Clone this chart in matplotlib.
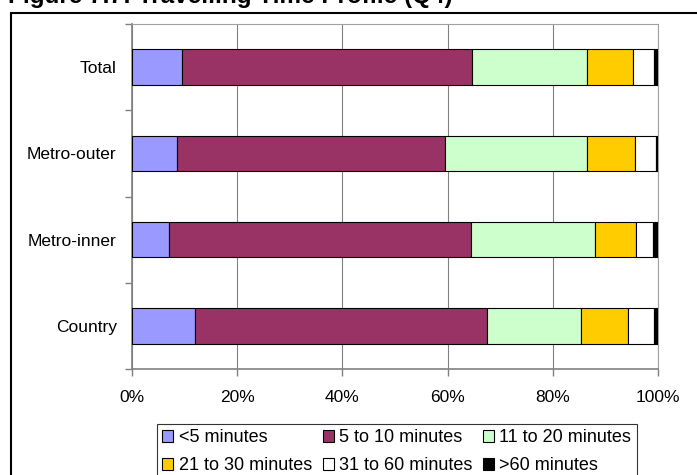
import numpy as np
import matplotlib
matplotlib.use("Agg")
import matplotlib.pyplot as plt
from matplotlib.patches import Rectangle

plt.rcParams['font.family'] = ['Liberation Sans', 'DejaVu Sans']

categories = ["Country", "Metro-inner", "Metro-outer", "Total"]
series_names = ["<5 minutes", "5 to 10 minutes", "11 to 20 minutes",
                "21 to 30 minutes", "31 to 60 minutes", ">60 minutes"]
under_5 = [11.9, 7.1, 8.6, 9.5]
m5_10 = [55.6, 57.3, 51.0, 55.1]
m11_20 = [17.9, 23.6, 26.9, 21.9]
m21_30 = [8.9, 7.8, 9.2, 8.7]
m31_60 = [5.0, 3.3, 3.9, 4.1]
over_60 = [0.7, 0.9, 0.4, 0.7]
x_ticks = [0, 20, 40, 60, 80, 100]
x_labels = ["0%", "20%", "40%", "60%", "80%", "100%"]
colors = ["#9999FF", "#993366", "#CCFFCC", "#FFCC00", "#FFFFFF", "#000000"]

series = [under_5, m5_10, m11_20, m21_30, m31_60, over_60]

fig = plt.figure(figsize=(6.97, 4.75), dpi=100)
ax = fig.add_axes([132 / 697, 1 - 369 / 475, (658 - 132) / 697, (369 - 24) / 475])

y = np.arange(len(categories))
left = np.zeros(len(categories))
handles = []
for vals, name, col in zip(series, series_names, colors):
    vals = np.array(vals)
    h = ax.barh(y, vals, left=left, height=0.41, color=col,
                edgecolor="black", linewidth=0.8, label=name, zorder=3)
    handles.append(h)
    left = left + vals

ax.set_xlim(0, 100)
ax.set_ylim(-0.5, len(categories) - 0.5)

ax.set_xticks(x_ticks)
ax.set_xticklabels(x_labels)
ax.xaxis.grid(True, color="#808080", linewidth=0.8, zorder=0)
ax.tick_params(axis="x", direction="out", length=5, width=1, color="#808080",
               pad=10, labelsize=12.5)

# category boundaries get the ticks, names sit between them
ax.set_yticks(np.arange(-0.5, len(categories), 1.0))
ax.set_yticklabels([])
ax.set_yticks(y, minor=True)
ax.set_yticklabels(categories, minor=True)
ax.tick_params(axis="y", which="major", direction="out", length=5, width=1,
               color="#808080")
ax.tick_params(axis="y", which="minor", length=0, pad=11, labelsize=12.5)

for side in ["top", "right"]:
    ax.spines[side].set_color("#A0A0A0")
for side in ["left", "bottom"]:
    ax.spines[side].set_color("#808080")
    ax.spines[side].set_linewidth(1.2)

order = [0, 3, 1, 4, 2, 5]
leg = fig.legend([handles[i] for i in order], [series_names[i] for i in order],
                 ncol=3, loc="upper left", bbox_to_anchor=(157 / 697, 1 - 424 / 475),
                 frameon=True, fancybox=False, edgecolor="black", fontsize=13,
                 handlelength=0.6, handleheight=0.6, handletextpad=0.3,
                 columnspacing=0.6, borderpad=0.3, labelspacing=0.6,
                 borderaxespad=0)
leg.get_frame().set_linewidth(0.8)

fig.text(0.012, 1 - 3.5 / 475, "Figure 7.7: Travelling Time Profile (Q4)",
         fontsize=17.5, fontweight="bold", va="baseline", ha="left")

frame = Rectangle((11 / 697, -0.1), 1.2, 1.1 - 13 / 475, transform=fig.transFigure,
                  fill=False, edgecolor="black", linewidth=1.5)
fig.add_artist(frame)

fig.savefig("out.png", dpi=100)
